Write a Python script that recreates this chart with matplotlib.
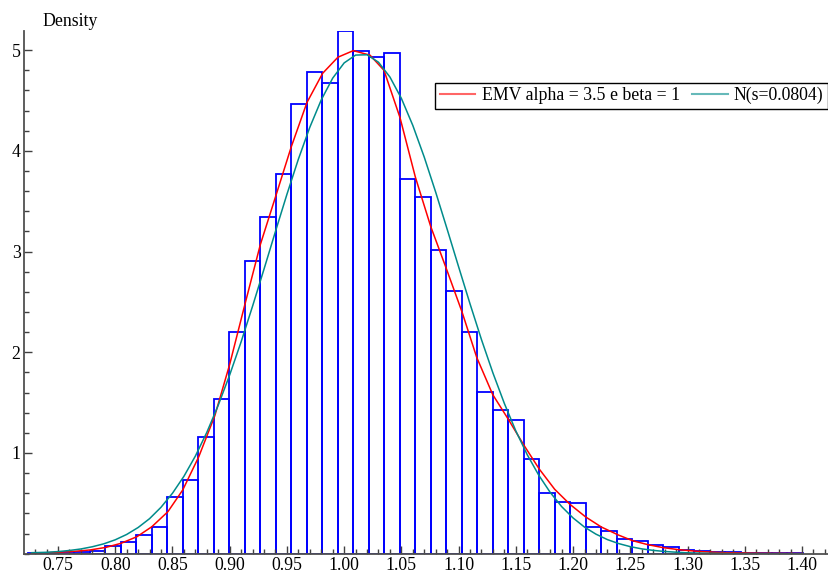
import numpy as np
import matplotlib
matplotlib.use("Agg")
import matplotlib.pyplot as plt
from matplotlib.ticker import MultipleLocator, FormatStrFormatter

plt.rcParams["font.family"] = ["Liberation Serif", "DejaVu Serif"]
plt.rcParams["font.size"] = 12.8

# histogram: 50 equal bins between the sample min and max
bin_start = 0.7237
bin_end = 1.4006
bin_heights = [
    0.004, 0.007, 0.012, 0.018, 0.027, 0.073, 0.119, 0.186, 0.268, 0.563,
    0.735, 1.16, 1.54, 2.20, 2.91, 3.34, 3.77, 4.47, 4.78, 4.67,
    5.19, 4.99, 4.93, 4.97, 3.72, 3.54, 3.02, 2.61, 2.20, 1.61,
    1.43, 1.33, 0.94, 0.60, 0.51, 0.50, 0.27, 0.23, 0.15, 0.13,
    0.09, 0.064, 0.04, 0.027, 0.017, 0.012, 0.008, 0.006, 0.005, 0.005,
]

# red curve (EMV fit)
emv_x = [0.727, 0.750, 0.765, 0.778, 0.792, 0.805, 0.819, 0.832, 0.846, 0.859,
         0.873, 0.887, 0.900, 0.9134, 0.9268, 0.9405, 0.9538, 0.9675, 0.9812,
         0.9946, 1.008, 1.0226, 1.0348, 1.0488, 1.0622, 1.0756, 1.0893, 1.103,
         1.1158, 1.1298, 1.1434, 1.1569, 1.1705, 1.1839, 1.1973, 1.211, 1.2247,
         1.2395, 1.2518, 1.2652, 1.2788, 1.2924, 1.31, 1.33, 1.36, 1.40]
emv_y = [0.004, 0.014, 0.024, 0.037, 0.063, 0.103, 0.169, 0.268, 0.417, 0.633,
         0.963, 1.37, 1.88, 2.48, 3.07, 3.56, 4.04, 4.48, 4.77,
         4.93, 4.995, 4.95, 4.80, 4.33, 3.74, 3.25, 2.83, 2.40,
         1.95, 1.58, 1.335, 1.08, 0.84, 0.64, 0.49, 0.365, 0.265,
         0.186, 0.13, 0.09, 0.06, 0.04, 0.022, 0.011, 0.005, 0.002]

# teal curve N(s=0.0804)
norm_x = [0.727, 0.74, 0.75, 0.76, 0.77, 0.78, 0.79, 0.80, 0.81, 0.82, 0.83,
          0.84, 0.85, 0.86, 0.87, 0.88, 0.89, 0.90, 0.91, 0.92, 0.93, 0.94,
          0.95, 0.96, 0.97, 0.98, 0.99, 1.00, 1.01, 1.02, 1.03, 1.04, 1.05,
          1.06, 1.07, 1.08, 1.09, 1.10, 1.11, 1.12, 1.13, 1.14, 1.15, 1.16,
          1.17, 1.18, 1.19, 1.20, 1.21, 1.22, 1.23, 1.24, 1.25, 1.26, 1.27,
          1.28, 1.29, 1.30, 1.31, 1.32, 1.34, 1.36, 1.40]
norm_y = [0.010, 0.014, 0.021, 0.032, 0.047, 0.069, 0.098, 0.138, 0.191, 0.260,
          0.348, 0.461, 0.600, 0.768, 0.969, 1.204, 1.474, 1.775, 2.104, 2.458,
          2.826, 3.200, 3.568, 3.917, 4.234, 4.506, 4.722, 4.873, 4.951, 4.954,
          4.880, 4.733, 4.521, 4.252, 3.937, 3.589, 3.222, 2.849, 2.480, 2.125,
          1.794, 1.491, 1.219, 0.982, 0.780, 0.609, 0.468, 0.355, 0.264, 0.194,
          0.140, 0.100, 0.070, 0.048, 0.033, 0.022, 0.015, 0.009, 0.006, 0.004,
          0.0014, 0.0005, 0.0001]

emv_label = "EMV alpha = 3.5 e beta = 1"
norm_label = "N(s=0.0804)"

edges = np.linspace(bin_start, bin_end, len(bin_heights) + 1)
width = edges[1] - edges[0]

fig = plt.figure(figsize=(8.29, 5.77), dpi=100)
ax = fig.add_axes([24 / 829, 23.3 / 577, 805 / 829, 522.7 / 577])

ax.bar(edges[:-1], bin_heights, width=width, align="edge", fill=False,
       edgecolor="#0000ff", linewidth=1.3)
l1, = ax.plot(emv_x, emv_y, color="#ff0000", lw=1.1, label=emv_label)
l2, = ax.plot(norm_x, norm_y, color="#008b8b", lw=1.1, label=norm_label)

ax.set_xlim(0.7203, 1.4236)
ax.set_ylim(0, 5.19)

for side in ("top", "right"):
    ax.spines[side].set_visible(False)
for side in ("left", "bottom"):
    ax.spines[side].set_color("#505050")
    ax.spines[side].set_linewidth(1.3)

ax.xaxis.set_major_locator(MultipleLocator(0.05))
ax.xaxis.set_minor_locator(MultipleLocator(0.01))
ax.xaxis.set_major_formatter(FormatStrFormatter("%.2f"))
ax.set_yticks([1, 2, 3, 4, 5])
ax.yaxis.set_minor_locator(MultipleLocator(0.2))
ax.tick_params(which="both", direction="in", color="#404040", width=1.0)
ax.tick_params(which="major", length=6, pad=2.5)
ax.tick_params(which="minor", length=3.5)
ax.tick_params(axis="x", which="both", top=False)
ax.tick_params(axis="y", which="both", right=False)

fig.text(42 / 829, 1 - 22 / 577, "Density", ha="left", va="center")

leg = fig.legend(handles=[l1, l2], ncol=2, loc="upper right",
                 bbox_to_anchor=(828 / 829, 1 - 82.5 / 577),
                 frameon=True, fancybox=False, framealpha=1,
                 handlelength=2.0, handletextpad=0.35, columnspacing=0.7,
                 borderpad=0.25, borderaxespad=0)
leg.get_frame().set_edgecolor("black")
leg.get_frame().set_linewidth(1.0)
for h in leg.get_lines():
    h.set_alpha(0.6)
    h.set_linewidth(1.5)

fig.savefig("out.png", dpi=100)
